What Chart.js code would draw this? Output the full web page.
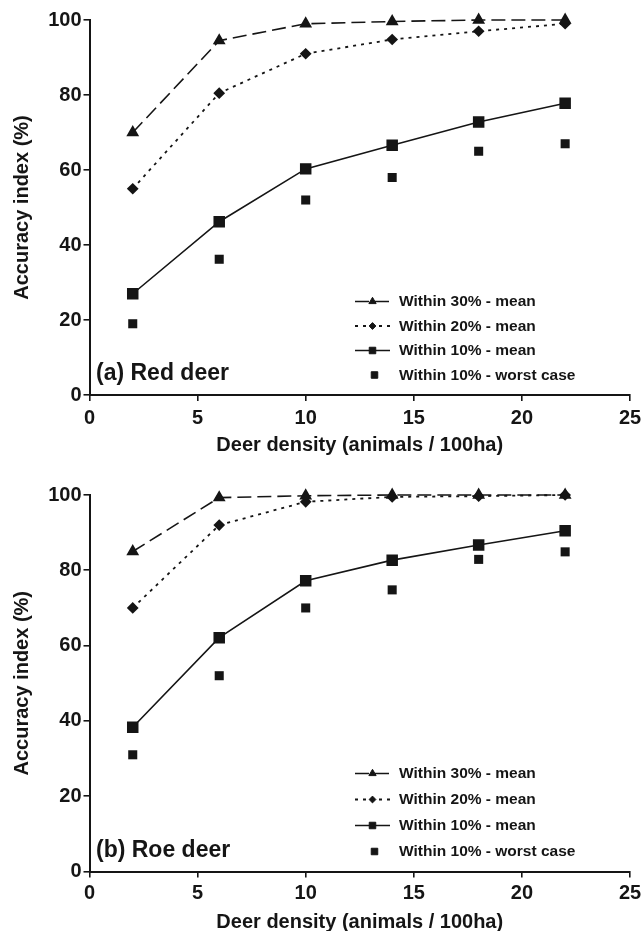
<!DOCTYPE html>
<html>
<head>
<meta charset="utf-8">
<script src="https://cdn.jsdelivr.net/npm/chart.js@4/dist/chart.umd.min.js"></script>
<style>
  html, body { margin: 0; padding: 0; background: #fff; }
  body { width: 644px; height: 931px; position: relative; overflow: hidden; }
  .panel { position: absolute; left: 0; width: 644px; }
  #p1 { top: 0; height: 465px; }
  #p2 { top: 465px; height: 470px; }
</style>
</head>
<body>
<div class="panel" id="p1"><canvas id="c1"></canvas></div>
<div class="panel" id="p2"><canvas id="c2"></canvas></div>
<script>
// Deer density (animals / 100ha) at which accuracy was evaluated
const density = [2, 6, 10, 14, 18, 22];

// (a) Red deer: accuracy index (%)
const red30mean = [70, 94.5, 99, 99.6, 100, 100];
const red20mean = [55, 80.5, 91, 94.8, 97, 99];
const red10mean = [27, 46.2, 60.3, 66.6, 72.8, 77.8];
const red10worst = [19, 36.2, 52, 58, 65, 67];

// (b) Roe deer: accuracy index (%)
const roe30mean = [85, 99.3, 99.8, 100, 100, 100];
const roe20mean = [70, 92, 98.2, 99.5, 99.7, 100];
const roe10mean = [38.3, 62.1, 77.2, 82.7, 86.7, 90.5];
const roe10worst = [31, 52, 70, 74.8, 82.9, 84.9];

const seriesNames = ['Within 30% - mean', 'Within 20% - mean', 'Within 10% - mean', 'Within 10% - worst case'];
const panelTitles = ['(a) Red deer', '(b) Roe deer'];
const xTitle = 'Deer density (animals / 100ha)';
const yTitle = 'Accuracy index (%)';

const INK = '#151515';
const FONT = '"Liberation Sans", Arial, Helvetica, sans-serif';

function pts(ys) { return density.map((x, i) => ({ x: x, y: ys[i] })); }

function makeDatasets(s30, s20, s10, s10w) {
  return [
    { label: seriesNames[0], data: pts(s30), borderColor: INK, backgroundColor: INK,
      borderWidth: 1.6, borderDash: [14, 6], pointStyle: 'triangle', pointRadius: 5.8,
      keyRadius: 4.2, showLine: true, clip: false },
    { label: seriesNames[1], data: pts(s20), borderColor: INK, backgroundColor: INK,
      borderWidth: 1.8, borderDash: [3, 5], pointStyle: 'rectRot', pointRadius: 4.6,
      keyRadius: 3.4, showLine: true, clip: false },
    { label: seriesNames[2], data: pts(s10), borderColor: INK, backgroundColor: INK,
      borderWidth: 1.6, borderDash: [], pointStyle: 'rect', pointRadius: 7,
      keyRadius: 4.6, showLine: true, clip: false },
    { label: seriesNames[3], data: pts(s10w), borderColor: INK, backgroundColor: INK,
      borderWidth: 0, pointStyle: 'rect', pointRadius: 6.4,
      keyRadius: 4.6, showLine: false, clip: false }
  ];
}

// Key drawn inside the plot, lower right, plus the panel caption lower left
const keyPlugin = {
  id: 'keyBox',
  afterDatasetsDraw(chart, args, opts) {
    const { ctx, chartArea } = chart;
    const n = chart.data.datasets.length;
    ctx.save();
    chart.data.datasets.forEach((ds, i) => {
      const y = chartArea.bottom - opts.bottomGap - (n - 1 - i) * opts.rowGap;
      const x0 = opts.lineStart, x1 = opts.lineEnd, xm = (x0 + x1) / 2;
      if (ds.showLine) {
        ctx.save();
        ctx.strokeStyle = ds.borderColor;
        ctx.lineWidth = ds.borderWidth;
        ctx.setLineDash(ds.borderDash || []);
        ctx.beginPath();
        ctx.moveTo(x0, y);
        ctx.lineTo(x1, y);
        ctx.stroke();
        ctx.restore();
      }
      ctx.fillStyle = ds.backgroundColor;
      ctx.strokeStyle = ds.borderColor;
      ctx.lineWidth = 1;
      Chart.helpers.drawPoint(ctx, { pointStyle: ds.pointStyle, radius: ds.keyRadius, rotation: 0, borderWidth: 1 }, ds.showLine ? xm : xm + 2, y);
      ctx.fillStyle = INK;
      ctx.font = 'bold 15.5px ' + FONT;
      ctx.textAlign = 'left';
      ctx.textBaseline = 'middle';
      ctx.fillText(ds.label, opts.textStart, y + 0.5);
    });
    ctx.font = 'bold 23px ' + FONT;
    ctx.textBaseline = 'middle';
    ctx.textAlign = 'left';
    ctx.fillStyle = INK;
    ctx.fillText(opts.caption, chartArea.left + 6.5, chartArea.bottom - opts.captionGap);
    ctx.restore();
  }
};

function makeChart(id, datasets, caption, pad, keyGap, xTickPad, xTitlePad) {
  return new Chart(document.getElementById(id), {
    type: 'scatter',
    data: { datasets: datasets },
    plugins: [keyPlugin],
    options: {
      responsive: true,
      maintainAspectRatio: false,
      animation: false,
      devicePixelRatio: 1,
      layout: { padding: { top: pad.top, right: 14, bottom: pad.bottom, left: 0 } },
      plugins: {
        legend: { display: false },
        tooltip: { enabled: false },
        keyBox: { caption: caption, bottomGap: 20, rowGap: keyGap, lineStart: 355, lineEnd: 390,
                  textStart: 399, captionGap: 21 }
      },
      elements: { line: { tension: 0 } },
      scales: {
        x: {
          type: 'linear', min: 0, max: 25,
          ticks: { stepSize: 5, color: INK, padding: xTickPad, font: { family: FONT, size: 20, weight: 'bold' } },
          grid: { drawOnChartArea: false, drawTicks: true, tickLength: 6, color: INK, lineWidth: 1.6 },
          border: { display: true, color: INK, width: 2 },
          title: { display: true, text: xTitle, color: INK, padding: { top: 0, bottom: xTitlePad },
                   font: { family: FONT, size: 20, weight: 'bold' } },
          afterFit(scale) {
            scale.height = 62;
            scale.paddingLeft = 0;
            scale.paddingRight = 0;
          }
        },
        y: {
          min: 0, max: 100,
          ticks: { stepSize: 20, color: INK, padding: 2, font: { family: FONT, size: 20, weight: 'bold' } },
          grid: { drawOnChartArea: false, drawTicks: true, tickLength: 6, color: INK, lineWidth: 1.6 },
          border: { display: true, color: INK, width: 2 },
          title: { display: true, text: yTitle, color: INK, padding: { top: 10.5, bottom: 0 },
                   font: { family: FONT, size: 20, weight: 'bold' } },
          afterFit(scale) { scale.width = 89.5; }
        }
      }
    }
  });
}

makeChart('c1', makeDatasets(red30mean, red20mean, red10mean, red10worst), panelTitles[0],
          { top: 20, bottom: 8 }, 24.5, 5, 0);
makeChart('c2', makeDatasets(roe30mean, roe20mean, roe10mean, roe10worst), panelTitles[1],
          { top: 30, bottom: 1.5 }, 26, 4, -1);
</script>
</body>
</html>
